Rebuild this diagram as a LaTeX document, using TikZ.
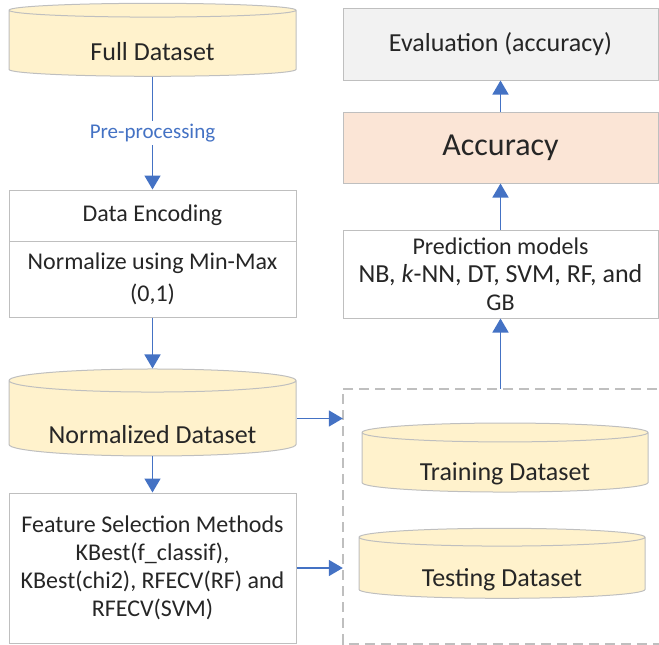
\documentclass[tikz,border=0pt]{standalone}
\usepackage{fontspec}
\setmainfont{Carlito}
\usepackage{tikz}
\usetikzlibrary{arrows.meta,shapes.geometric}
\definecolor{ink}{HTML}{262626}
\definecolor{edge}{HTML}{BFBFBF}
\definecolor{flow}{HTML}{4472C4}
\definecolor{dbfill}{HTML}{FFF2CC}
\definecolor{evalfill}{HTML}{F2F2F2}
\definecolor{accfill}{HTML}{FBE5D6}
\tikzset{
  box/.style={draw=edge, line width=1pt, fill=white, text=ink, align=center,
    font=\fontsize{24}{28}\selectfont, minimum width=287pt, inner sep=0pt},
  db/.style={cylinder, shape border rotate=90, aspect=0.111, draw=edge, line width=1pt,
    fill=dbfill, text=ink, font=\fontsize{26}{30}\selectfont, minimum width=287pt,
    inner sep=0pt, text depth=0pt},
  flowline/.style={draw=flow, line width=1.6pt, -{Triangle[width=16pt,length=14pt]}},
  groupline/.style={draw=edge, line width=1.5pt, dash pattern=on 10pt off 6pt},
}

\begin{document}
\begin{tikzpicture}[x=1pt, y=-1pt]
  \useasboundingbox (0,0) rectangle (659,645);

  % left column: data preparation
  \node[db, minimum height=73pt, text height=33pt] (full) at (152.5,43.5) {Full Dataset};
  \node[box, minimum height=51pt] (enc) at (152.5,215.5) {Data Encoding};
  \node[box, minimum height=76pt] (minmax) at (152.5,279) {Normalize using Min-Max\\[4pt](0,1)};
  \node[db, minimum height=87pt, text height=49pt] (normdb) at (152.5,418.5) {Normalized Dataset};
  \node[box, minimum height=150pt] (fsm) at (152.5,568)
    {Feature Selection Methods\\KBest(f\_classif),\\KBest(chi2), RFECV(RF) and\\RFECV(SVM)};

  % right column: models and evaluation
  \node[box, fill=evalfill, minimum width=315pt, minimum height=72pt,
    font=\fontsize{26}{30}\selectfont] (eval) at (500.5,44) {Evaluation (accuracy)};
  \node[box, fill=accfill, minimum width=315pt, minimum height=71pt,
    font=\fontsize{32}{38}\selectfont] (acc) at (500.5,147.5) {Accuracy};
  \node[box, minimum width=315pt, minimum height=88pt] (pred) at (500.5,274)
    {Prediction models\\{\fontsize{26}{29}\selectfont NB, \textit{k}-NN, DT, SVM, RF, and}\\GB};

  % train/test split
  \node[inner sep=0pt, minimum width=330pt, minimum height=255pt] (split) at (508,516.5) {};
  \node[db, minimum width=286pt, minimum height=69pt, text height=35pt] (train) at (505,462.5) {Training Dataset};
  \node[db, minimum width=286pt, minimum height=70pt, text height=36pt] (test) at (502,568) {Testing Dataset};
  \draw[groupline] (split.north east) -- (split.north west) -- (split.south west) -- (split.south east);

  % arrows
  \draw[flowline] (full) -- node[fill=white, text=flow, inner sep=3pt,
    font=\fontsize{21}{24}\selectfont] (pre) {Pre-processing} (enc);
  \draw[flowline] (minmax) -- (normdb);
  \draw[flowline] (normdb) -- (fsm);
  \draw[flowline] (normdb.east) -- (normdb.east -| split.west);
  \draw[flowline] (fsm.east) -- (fsm.east -| split.west);
  \draw[flowline] (split.north -| pred.south) -- (pred);
  \draw[flowline] (pred) -- (acc);
  \draw[flowline] (acc) -- (eval);
\end{tikzpicture}
\end{document}
